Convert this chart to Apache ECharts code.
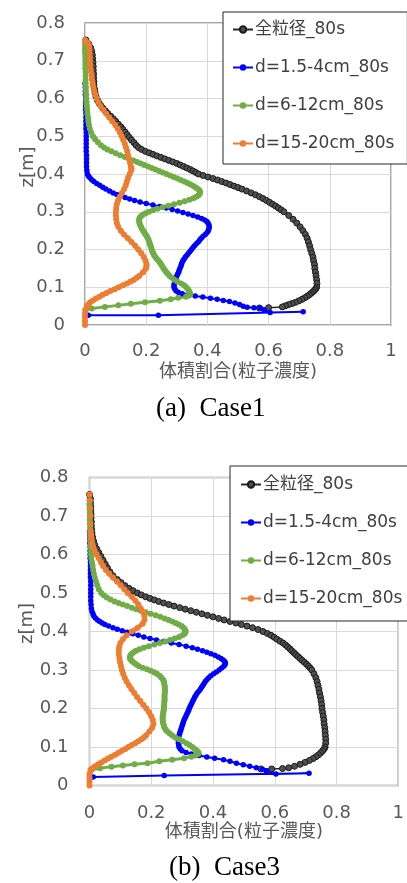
<!DOCTYPE html>
<html>
<head>
<meta charset="utf-8">
<script src="https://cdn.jsdelivr.net/npm/echarts@6/dist/echarts.min.js"></script>
<style>
html,body{margin:0;padding:0;background:#fff;}
#c{width:407px;height:883px;}
</style>
</head>
<body>
<div id="c"></div>
<script>
// Series names
const names = ['全粒径_80s', 'd=1.5-4cm_80s', 'd=6-12cm_80s', 'd=15-20cm_80s'];
const captions = ['(a)\u2002Case1', '(b)\u2002Case3'];
const xName = '体積割合(粒子濃度)';
const yName = 'z[m]';

// ---- Case1: [volume fraction, z] ----
const case1All = [[0.003,0.755],[0.012,0.745],[0.018,0.735],[0.022,0.725],[0.024,0.715],[0.025,0.705],[0.026,0.695],[0.027,0.685],[0.027,0.675],[0.028,0.665],[0.028,0.655],[0.029,0.645],[0.029,0.635],[0.031,0.625],[0.033,0.615],[0.036,0.605],[0.041,0.595],[0.046,0.588],[0.052,0.581],[0.059,0.574],[0.067,0.567],[0.075,0.560],[0.084,0.553],[0.093,0.546],[0.101,0.539],[0.109,0.532],[0.117,0.525],[0.124,0.518],[0.131,0.511],[0.138,0.504],[0.145,0.497],[0.152,0.490],[0.160,0.483],[0.167,0.476],[0.175,0.470],[0.185,0.465],[0.197,0.460],[0.210,0.456],[0.222,0.452],[0.235,0.448],[0.248,0.444],[0.261,0.440],[0.274,0.436],[0.287,0.432],[0.300,0.428],[0.311,0.424],[0.322,0.420],[0.333,0.416],[0.344,0.412],[0.353,0.408],[0.362,0.404],[0.371,0.400],[0.386,0.396],[0.402,0.392],[0.418,0.388],[0.433,0.384],[0.447,0.380],[0.461,0.376],[0.474,0.372],[0.487,0.368],[0.500,0.364],[0.513,0.360],[0.528,0.355],[0.543,0.350],[0.557,0.345],[0.570,0.340],[0.582,0.335],[0.593,0.330],[0.603,0.325],[0.613,0.320],[0.623,0.315],[0.632,0.310],[0.641,0.305],[0.650,0.300],[0.666,0.290],[0.680,0.280],[0.692,0.270],[0.703,0.260],[0.712,0.250],[0.720,0.240],[0.726,0.230],[0.730,0.220],[0.734,0.210],[0.737,0.200],[0.741,0.190],[0.745,0.180],[0.747,0.170],[0.750,0.160],[0.751,0.150],[0.753,0.140],[0.755,0.130],[0.757,0.120],[0.758,0.110],[0.757,0.100],[0.754,0.096],[0.750,0.092],[0.745,0.088],[0.739,0.084],[0.733,0.080],[0.726,0.076],[0.718,0.072],[0.709,0.068],[0.699,0.064],[0.688,0.060],[0.677,0.057],[0.666,0.054],[0.655,0.051],[0.645,0.048],[0.600,0.046],[0.570,0.045]];

const case1Fine = [[0.000,0.640],[0.001,0.630],[0.001,0.620],[0.001,0.610],[0.002,0.600],[0.002,0.590],[0.002,0.580],[0.002,0.570],[0.003,0.560],[0.003,0.550],[0.003,0.540],[0.003,0.530],[0.003,0.520],[0.004,0.510],[0.004,0.500],[0.004,0.490],[0.004,0.480],[0.004,0.470],[0.004,0.460],[0.005,0.450],[0.005,0.440],[0.005,0.430],[0.005,0.420],[0.006,0.410],[0.008,0.400],[0.011,0.395],[0.016,0.390],[0.022,0.385],[0.029,0.380],[0.038,0.375],[0.048,0.370],[0.058,0.365],[0.068,0.360],[0.080,0.355],[0.092,0.350],[0.104,0.346],[0.117,0.342],[0.131,0.338],[0.146,0.334],[0.162,0.330],[0.180,0.326],[0.200,0.322],[0.222,0.318],[0.244,0.314],[0.265,0.310],[0.285,0.306],[0.303,0.302],[0.320,0.298],[0.337,0.294],[0.353,0.290],[0.368,0.286],[0.381,0.282],[0.391,0.278],[0.398,0.274],[0.402,0.270],[0.405,0.265],[0.406,0.260],[0.405,0.255],[0.403,0.250],[0.399,0.245],[0.393,0.240],[0.386,0.235],[0.380,0.230],[0.375,0.225],[0.370,0.220],[0.364,0.215],[0.358,0.210],[0.353,0.205],[0.348,0.200],[0.343,0.195],[0.338,0.190],[0.333,0.185],[0.328,0.180],[0.324,0.175],[0.320,0.170],[0.317,0.165],[0.315,0.160],[0.313,0.155],[0.310,0.150],[0.308,0.145],[0.306,0.140],[0.303,0.135],[0.300,0.130],[0.297,0.125],[0.295,0.120],[0.293,0.115],[0.292,0.110],[0.291,0.105],[0.291,0.100],[0.294,0.095],[0.298,0.090],[0.306,0.086],[0.318,0.083],[0.338,0.080],[0.360,0.077],[0.385,0.074],[0.410,0.071],[0.432,0.068],[0.452,0.065],[0.472,0.062],[0.490,0.058],[0.505,0.054],[0.517,0.050],[0.530,0.047],[0.552,0.046],[0.572,0.045],[0.585,0.040],[0.605,0.033],[0.713,0.035],[0.240,0.026],[0.011,0.026]];

const case1Mid = [[0.000,0.750],[0.000,0.740],[0.000,0.730],[0.000,0.720],[0.001,0.710],[0.001,0.700],[0.001,0.690],[0.001,0.680],[0.002,0.670],[0.002,0.660],[0.002,0.650],[0.002,0.640],[0.003,0.630],[0.003,0.620],[0.004,0.610],[0.004,0.600],[0.005,0.590],[0.006,0.580],[0.007,0.570],[0.008,0.560],[0.010,0.550],[0.011,0.540],[0.013,0.530],[0.016,0.520],[0.020,0.510],[0.026,0.500],[0.033,0.492],[0.042,0.484],[0.052,0.476],[0.062,0.470],[0.073,0.465],[0.086,0.460],[0.100,0.455],[0.115,0.450],[0.130,0.445],[0.145,0.440],[0.158,0.436],[0.170,0.432],[0.182,0.428],[0.194,0.424],[0.206,0.420],[0.218,0.416],[0.230,0.412],[0.242,0.408],[0.254,0.404],[0.266,0.400],[0.278,0.396],[0.290,0.392],[0.302,0.388],[0.313,0.384],[0.324,0.380],[0.335,0.376],[0.345,0.372],[0.354,0.368],[0.362,0.364],[0.369,0.360],[0.374,0.356],[0.376,0.352],[0.375,0.348],[0.371,0.344],[0.364,0.340],[0.354,0.336],[0.341,0.332],[0.326,0.328],[0.309,0.324],[0.291,0.320],[0.272,0.316],[0.254,0.312],[0.237,0.308],[0.222,0.304],[0.209,0.300],[0.198,0.296],[0.189,0.292],[0.183,0.288],[0.179,0.284],[0.177,0.280],[0.177,0.275],[0.178,0.270],[0.180,0.265],[0.183,0.260],[0.186,0.255],[0.190,0.250],[0.194,0.245],[0.198,0.240],[0.202,0.235],[0.205,0.230],[0.208,0.225],[0.210,0.220],[0.212,0.215],[0.214,0.210],[0.216,0.205],[0.218,0.200],[0.220,0.195],[0.223,0.190],[0.226,0.185],[0.230,0.180],[0.235,0.175],[0.240,0.170],[0.245,0.165],[0.249,0.160],[0.253,0.155],[0.257,0.150],[0.261,0.145],[0.266,0.140],[0.271,0.135],[0.277,0.130],[0.284,0.125],[0.292,0.120],[0.302,0.115],[0.314,0.110],[0.324,0.105],[0.331,0.100],[0.336,0.095],[0.340,0.090],[0.343,0.085],[0.344,0.081],[0.340,0.078],[0.330,0.075],[0.305,0.072],[0.280,0.068],[0.245,0.064],[0.196,0.060],[0.150,0.056],[0.109,0.052],[0.065,0.048],[0.022,0.044],[0.002,0.040]];

const case1Coarse = [[0.000,0.755],[0.006,0.750],[0.011,0.745],[0.013,0.740],[0.015,0.730],[0.015,0.720],[0.016,0.710],[0.016,0.700],[0.017,0.690],[0.018,0.680],[0.020,0.670],[0.022,0.660],[0.023,0.650],[0.025,0.640],[0.027,0.630],[0.030,0.620],[0.034,0.610],[0.038,0.600],[0.044,0.590],[0.051,0.580],[0.060,0.570],[0.069,0.560],[0.079,0.550],[0.089,0.540],[0.099,0.530],[0.107,0.520],[0.114,0.510],[0.120,0.500],[0.125,0.490],[0.130,0.480],[0.134,0.470],[0.138,0.460],[0.141,0.450],[0.144,0.440],[0.147,0.430],[0.150,0.420],[0.152,0.415],[0.151,0.410],[0.146,0.400],[0.141,0.390],[0.137,0.380],[0.133,0.370],[0.128,0.360],[0.121,0.350],[0.114,0.340],[0.108,0.330],[0.104,0.320],[0.102,0.310],[0.101,0.300],[0.101,0.290],[0.102,0.280],[0.104,0.270],[0.109,0.260],[0.117,0.250],[0.127,0.240],[0.140,0.230],[0.152,0.220],[0.164,0.210],[0.174,0.200],[0.184,0.190],[0.192,0.180],[0.198,0.170],[0.201,0.160],[0.201,0.155],[0.199,0.150],[0.190,0.140],[0.177,0.130],[0.169,0.125],[0.160,0.120],[0.149,0.115],[0.137,0.110],[0.124,0.105],[0.110,0.100],[0.097,0.095],[0.083,0.090],[0.070,0.085],[0.058,0.080],[0.047,0.075],[0.036,0.070],[0.026,0.065],[0.017,0.060],[0.011,0.055],[0.006,0.050],[0.001,0.040],[0.000,0.030],[0.000,0.020],[0.000,0.010],[0.000,0.000]];

// ---- Case3: [volume fraction, z] ----
const case3All = [[0.000,0.756],[0.003,0.745],[0.003,0.735],[0.004,0.725],[0.004,0.715],[0.005,0.705],[0.005,0.695],[0.006,0.685],[0.006,0.675],[0.007,0.665],[0.008,0.655],[0.010,0.645],[0.013,0.635],[0.017,0.625],[0.023,0.615],[0.030,0.605],[0.037,0.595],[0.044,0.585],[0.051,0.575],[0.058,0.565],[0.066,0.555],[0.076,0.545],[0.090,0.535],[0.102,0.527],[0.115,0.519],[0.128,0.512],[0.141,0.506],[0.155,0.500],[0.168,0.495],[0.182,0.490],[0.196,0.486],[0.210,0.482],[0.224,0.478],[0.240,0.474],[0.257,0.470],[0.274,0.466],[0.292,0.462],[0.310,0.458],[0.328,0.454],[0.346,0.450],[0.364,0.446],[0.382,0.442],[0.400,0.438],[0.418,0.434],[0.436,0.430],[0.455,0.426],[0.474,0.422],[0.492,0.418],[0.510,0.414],[0.528,0.410],[0.546,0.405],[0.562,0.400],[0.576,0.395],[0.588,0.390],[0.598,0.385],[0.607,0.380],[0.617,0.375],[0.627,0.370],[0.635,0.365],[0.642,0.360],[0.649,0.355],[0.655,0.350],[0.662,0.345],[0.668,0.340],[0.675,0.335],[0.682,0.330],[0.689,0.325],[0.696,0.320],[0.703,0.315],[0.709,0.310],[0.715,0.305],[0.720,0.300],[0.727,0.290],[0.733,0.280],[0.737,0.270],[0.740,0.260],[0.743,0.250],[0.745,0.240],[0.748,0.230],[0.750,0.220],[0.752,0.210],[0.753,0.200],[0.755,0.190],[0.757,0.180],[0.759,0.170],[0.760,0.160],[0.762,0.150],[0.763,0.140],[0.764,0.130],[0.765,0.120],[0.765,0.110],[0.763,0.100],[0.760,0.095],[0.755,0.090],[0.749,0.085],[0.742,0.080],[0.734,0.075],[0.724,0.070],[0.712,0.065],[0.698,0.060],[0.682,0.055],[0.664,0.050],[0.645,0.046],[0.625,0.044],[0.590,0.043],[0.555,0.043]];

const case3Fine = [[0.000,0.660],[0.001,0.650],[0.001,0.640],[0.001,0.630],[0.002,0.620],[0.002,0.610],[0.002,0.600],[0.002,0.590],[0.003,0.580],[0.003,0.570],[0.003,0.560],[0.003,0.550],[0.003,0.540],[0.004,0.530],[0.004,0.520],[0.004,0.510],[0.004,0.500],[0.004,0.490],[0.004,0.480],[0.005,0.470],[0.006,0.460],[0.008,0.452],[0.011,0.446],[0.014,0.440],[0.019,0.435],[0.026,0.430],[0.033,0.426],[0.041,0.422],[0.050,0.418],[0.062,0.414],[0.076,0.410],[0.090,0.406],[0.106,0.402],[0.122,0.398],[0.140,0.394],[0.158,0.390],[0.176,0.386],[0.196,0.382],[0.217,0.378],[0.240,0.374],[0.265,0.370],[0.290,0.366],[0.313,0.362],[0.333,0.358],[0.350,0.354],[0.366,0.350],[0.380,0.346],[0.393,0.342],[0.406,0.338],[0.417,0.334],[0.426,0.330],[0.433,0.326],[0.438,0.322],[0.440,0.318],[0.439,0.314],[0.435,0.310],[0.428,0.305],[0.420,0.300],[0.411,0.295],[0.402,0.290],[0.393,0.285],[0.386,0.280],[0.380,0.275],[0.375,0.270],[0.371,0.265],[0.367,0.260],[0.363,0.255],[0.359,0.250],[0.354,0.245],[0.349,0.240],[0.345,0.235],[0.341,0.230],[0.338,0.225],[0.335,0.220],[0.332,0.215],[0.329,0.210],[0.326,0.205],[0.323,0.200],[0.321,0.195],[0.318,0.190],[0.315,0.185],[0.312,0.180],[0.309,0.175],[0.306,0.170],[0.304,0.165],[0.302,0.160],[0.300,0.155],[0.298,0.150],[0.296,0.145],[0.294,0.140],[0.292,0.135],[0.290,0.130],[0.289,0.125],[0.288,0.120],[0.288,0.115],[0.288,0.110],[0.289,0.105],[0.290,0.100],[0.294,0.095],[0.300,0.090],[0.313,0.086],[0.330,0.082],[0.355,0.078],[0.380,0.074],[0.405,0.071],[0.434,0.067],[0.455,0.063],[0.476,0.058],[0.498,0.054],[0.519,0.050],[0.540,0.046],[0.560,0.042],[0.572,0.038],[0.604,0.030],[0.711,0.032],[0.242,0.026],[0.012,0.022]];

const case3Mid = [[0.000,0.740],[0.000,0.730],[0.000,0.720],[0.001,0.710],[0.001,0.700],[0.001,0.690],[0.001,0.680],[0.002,0.670],[0.002,0.660],[0.003,0.650],[0.003,0.640],[0.004,0.630],[0.004,0.620],[0.005,0.610],[0.005,0.600],[0.006,0.590],[0.008,0.580],[0.010,0.570],[0.012,0.560],[0.014,0.550],[0.017,0.540],[0.021,0.530],[0.025,0.520],[0.030,0.510],[0.038,0.500],[0.046,0.494],[0.056,0.488],[0.068,0.483],[0.081,0.478],[0.094,0.474],[0.108,0.470],[0.122,0.466],[0.137,0.462],[0.151,0.458],[0.166,0.454],[0.182,0.450],[0.198,0.446],[0.214,0.442],[0.229,0.438],[0.243,0.434],[0.256,0.430],[0.268,0.426],[0.279,0.422],[0.289,0.418],[0.298,0.414],[0.304,0.410],[0.308,0.406],[0.311,0.402],[0.311,0.398],[0.308,0.394],[0.301,0.390],[0.290,0.386],[0.276,0.382],[0.261,0.378],[0.245,0.374],[0.228,0.370],[0.210,0.366],[0.192,0.362],[0.176,0.358],[0.162,0.354],[0.151,0.350],[0.143,0.346],[0.137,0.342],[0.133,0.338],[0.131,0.334],[0.131,0.330],[0.134,0.326],[0.139,0.322],[0.145,0.318],[0.152,0.314],[0.160,0.310],[0.172,0.306],[0.186,0.302],[0.198,0.298],[0.209,0.294],[0.218,0.290],[0.227,0.285],[0.233,0.280],[0.238,0.275],[0.241,0.270],[0.242,0.265],[0.243,0.260],[0.244,0.255],[0.244,0.250],[0.244,0.245],[0.244,0.240],[0.243,0.235],[0.243,0.230],[0.243,0.225],[0.243,0.220],[0.242,0.215],[0.242,0.210],[0.241,0.205],[0.241,0.200],[0.240,0.195],[0.239,0.190],[0.238,0.185],[0.237,0.180],[0.237,0.175],[0.237,0.170],[0.238,0.165],[0.239,0.160],[0.241,0.155],[0.243,0.150],[0.247,0.145],[0.252,0.140],[0.260,0.135],[0.268,0.130],[0.278,0.125],[0.290,0.120],[0.302,0.115],[0.314,0.110],[0.324,0.105],[0.333,0.100],[0.341,0.095],[0.348,0.090],[0.353,0.086],[0.352,0.082],[0.343,0.078],[0.330,0.075],[0.306,0.071],[0.268,0.067],[0.226,0.063],[0.188,0.058],[0.146,0.055],[0.108,0.052],[0.071,0.049],[0.034,0.045],[0.007,0.041]];

const case3Coarse = [[0.000,0.756],[0.001,0.740],[0.002,0.720],[0.003,0.700],[0.003,0.680],[0.004,0.660],[0.005,0.650],[0.007,0.640],[0.009,0.630],[0.012,0.620],[0.017,0.610],[0.023,0.600],[0.030,0.590],[0.037,0.580],[0.044,0.570],[0.053,0.560],[0.064,0.550],[0.076,0.540],[0.089,0.530],[0.101,0.520],[0.113,0.510],[0.124,0.500],[0.137,0.490],[0.149,0.480],[0.158,0.470],[0.166,0.460],[0.174,0.450],[0.178,0.440],[0.178,0.430],[0.172,0.420],[0.156,0.410],[0.137,0.400],[0.120,0.390],[0.108,0.380],[0.100,0.370],[0.096,0.360],[0.095,0.350],[0.095,0.340],[0.097,0.330],[0.099,0.320],[0.102,0.310],[0.105,0.300],[0.109,0.290],[0.114,0.280],[0.120,0.270],[0.128,0.260],[0.136,0.250],[0.145,0.240],[0.154,0.230],[0.164,0.220],[0.174,0.210],[0.184,0.200],[0.193,0.190],[0.200,0.180],[0.205,0.170],[0.207,0.160],[0.203,0.150],[0.194,0.140],[0.183,0.130],[0.176,0.125],[0.168,0.120],[0.158,0.115],[0.148,0.110],[0.137,0.105],[0.126,0.100],[0.116,0.095],[0.105,0.090],[0.094,0.085],[0.083,0.080],[0.071,0.075],[0.060,0.070],[0.049,0.065],[0.038,0.060],[0.028,0.055],[0.018,0.050],[0.009,0.045],[0.003,0.040],[0.000,0.030],[0.000,0.020],[0.000,0.010],[0.000,0.000]];

const dataSets = [
  [case1All, case1Fine, case1Mid, case1Coarse],
  [case3All, case3Fine, case3Mid, case3Coarse]
];

const FONT = "'DejaVu Sans', 'Noto Sans CJK JP', sans-serif";
const seriesStyles = [
  { line: '#262626', fill: '#505050', border: '#1a1a1a', bw: 1, size: 6, lw: 1.5 },
  { line: '#0000ff', fill: '#0000ff', border: '#0000ff', bw: 0, size: 5.5, lw: 2 },
  { line: '#70ad47', fill: '#70ad47', border: '#70ad47', bw: 0, size: 6, lw: 3 },
  { line: '#ed7d31', fill: '#ed7d31', border: '#ed7d31', bw: 0, size: 6, lw: 4.5 }
];

const grids = [
  { left: 85, top: 23, width: 306, height: 302 },
  { left: 89.5, top: 477.5, width: 312.5, height: 308 }
];

const chart = echarts.init(document.getElementById('c'), null, { renderer: 'canvas' });

const xAxes = [], yAxes = [], series = [];
grids.forEach((g, gi) => {
  xAxes.push({
    gridIndex: gi, type: 'value', min: 0, max: 1, interval: 0.2,
    name: xName, nameLocation: 'middle', nameGap: 38, nameMoveOverlap: false,
    nameTextStyle: { fontSize: 18, color: '#595959', fontFamily: FONT },
    axisLine: { show: false }, axisTick: { show: false },
    axisLabel: { fontSize: 18, color: '#595959', fontFamily: FONT, margin: gi === 0 ? 17 : 19 },
    splitLine: { show: true, lineStyle: { color: '#d9d9d9', width: 1 } }
  });
  yAxes.push({
    gridIndex: gi, type: 'value', min: 0, max: 0.8, interval: 0.1,
    name: yName, nameLocation: 'middle', nameGap: gi === 0 ? 48 : 53, nameMoveOverlap: false,
    nameTextStyle: { fontSize: 18, color: '#595959', fontFamily: FONT, padding: [0, 0, 0, gi === 0 ? 14 : 16] },
    axisLine: { show: false }, axisTick: { show: false },
    axisLabel: { fontSize: 18, color: '#595959', fontFamily: FONT, margin: gi === 0 ? 20 : 21 },
    splitLine: { show: true, lineStyle: { color: '#d9d9d9', width: 1 } }
  });
  dataSets[gi].forEach((d, si) => {
    const s = seriesStyles[si];
    series.push({
      name: names[si], type: 'line', xAxisIndex: gi, yAxisIndex: gi,
      data: d, symbol: 'circle', symbolSize: s.size, showSymbol: true,
      lineStyle: { color: s.line, width: s.lw },
      itemStyle: { color: s.fill, borderColor: s.border, borderWidth: s.bw },
      emphasis: { disabled: true }, clip: false
    });
  });
});

const legendBase = {
  orient: 'vertical', itemWidth: 20, itemHeight: 8, itemGap: 21,
  borderColor: '#262626', borderWidth: 1, backgroundColor: '#ffffff',
  textStyle: { fontSize: 17, color: '#404040', fontFamily: FONT, padding: [0, 0, 0, -3] },
  selectedMode: false, data: names
};

chart.setOption({
  animation: false,
  backgroundColor: '#ffffff',
  grid: grids.map(g => Object.assign({ show: true, borderColor: '#8c8c8c', borderWidth: 1.5, backgroundColor: 'transparent' }, g)),
  xAxis: xAxes,
  yAxis: yAxes,
  legend: [
    Object.assign({}, legendBase, { left: 223, top: 12, padding: [9, 13, 12, 9] }),
    Object.assign({}, legendBase, { left: 230, top: 466, padding: [10, 13, 14, 10] })
  ],
  title: [
    { text: captions[0], left: 156, top: 395, padding: 0,
      textStyle: { fontFamily: "'Liberation Serif', serif", fontSize: 27, fontWeight: 'normal', color: '#000' } },
    { text: captions[1], left: 169, top: 854, padding: 0,
      textStyle: { fontFamily: "'Liberation Serif', serif", fontSize: 27, fontWeight: 'normal', color: '#000' } }
  ],
  series: series
});
</script>
</body>
</html>
